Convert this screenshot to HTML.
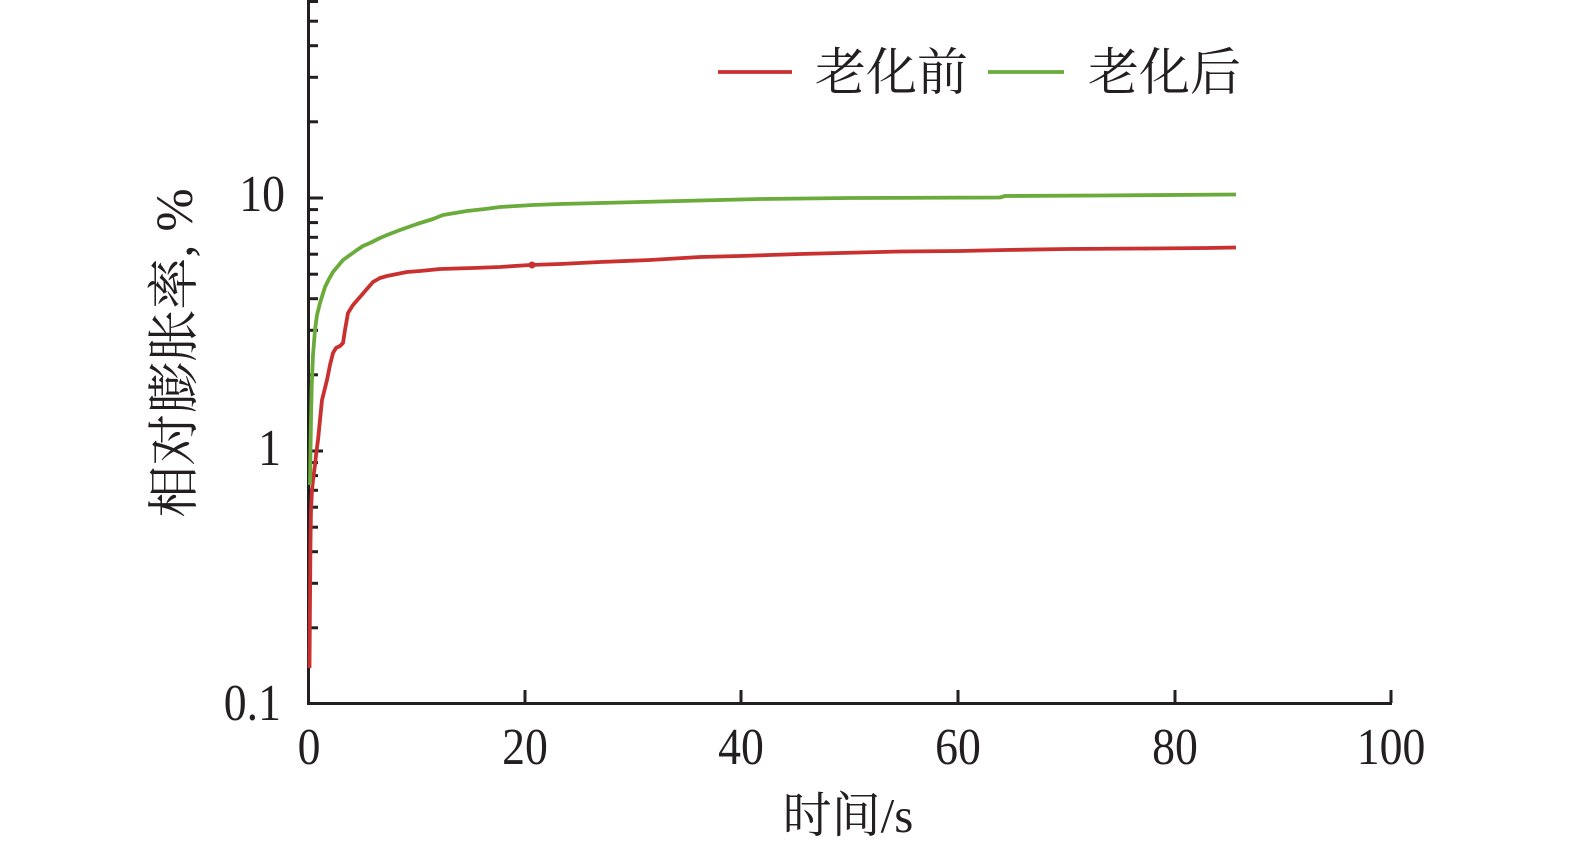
<!DOCTYPE html>
<html><head><meta charset="utf-8"><style>
html,body{margin:0;padding:0;background:#fff;}
svg{display:block;}
text{fill:#231f20;}
.n{font-family:"Liberation Serif","Noto Serif CJK SC",serif;font-size:52px;}
.c{font-family:"Liberation Serif","Noto Serif CJK SC",serif;}
</style></head><body>
<svg width="1575" height="849" viewBox="0 0 1575 849" xmlns="http://www.w3.org/2000/svg">
<!-- axes -->
<g stroke="#231f20" stroke-width="3" fill="none">
<line x1="308.5" y1="0" x2="308.5" y2="705"/>
<line x1="307" y1="703.5" x2="1392" y2="703.5"/>
<line x1="525" y1="703" x2="525" y2="690"/>
<line x1="741" y1="703" x2="741" y2="690"/>
<line x1="958" y1="703" x2="958" y2="690"/>
<line x1="1175" y1="703" x2="1175" y2="690"/>
<line x1="1391" y1="703" x2="1391" y2="690"/>
<line x1="308" y1="198" x2="323" y2="198"/>
<line x1="308" y1="451" x2="323" y2="451"/>
<line x1="308" y1="627.8" x2="318" y2="627.8"/>
<line x1="308" y1="583.3" x2="318" y2="583.3"/>
<line x1="308" y1="551.7" x2="318" y2="551.7"/>
<line x1="308" y1="527.2" x2="318" y2="527.2"/>
<line x1="308" y1="507.2" x2="318" y2="507.2"/>
<line x1="308" y1="490.3" x2="318" y2="490.3"/>
<line x1="308" y1="475.6" x2="318" y2="475.6"/>
<line x1="308" y1="462.6" x2="318" y2="462.6"/>
<line x1="308" y1="374.8" x2="318" y2="374.8"/>
<line x1="308" y1="330.3" x2="318" y2="330.3"/>
<line x1="308" y1="298.7" x2="318" y2="298.7"/>
<line x1="308" y1="274.2" x2="318" y2="274.2"/>
<line x1="308" y1="254.2" x2="318" y2="254.2"/>
<line x1="308" y1="237.3" x2="318" y2="237.3"/>
<line x1="308" y1="222.6" x2="318" y2="222.6"/>
<line x1="308" y1="209.6" x2="318" y2="209.6"/>
<line x1="308" y1="121.8" x2="318" y2="121.8"/>
<line x1="308" y1="77.3" x2="318" y2="77.3"/>
<line x1="308" y1="45.7" x2="318" y2="45.7"/>
<line x1="308" y1="21.2" x2="318" y2="21.2"/>
<line x1="308" y1="1.5" x2="318" y2="1.5"/>
</g>

<!-- x tick labels -->
<g class="n" text-anchor="middle">
<text transform="translate(309,764) scale(0.88,1)">0</text>
<text transform="translate(525,764) scale(0.88,1)">20</text>
<text transform="translate(741,764) scale(0.88,1)">40</text>
<text transform="translate(958,764) scale(0.88,1)">60</text>
<text transform="translate(1175,764) scale(0.88,1)">80</text>
<text transform="translate(1391,764) scale(0.88,1)">100</text>
</g>
<!-- y tick labels -->
<g class="n" text-anchor="end">
<text transform="translate(285,211) scale(0.88,1)">10</text>
<text transform="translate(281,465) scale(0.88,1)">1</text>
<text transform="translate(281,720) scale(0.88,1)">0.1</text>
</g>

<!-- axis titles -->
<text class="c" font-size="49" x="848" y="832" text-anchor="middle">时间/s</text>
<text class="c" font-size="52" transform="translate(192,353) rotate(-90)" text-anchor="middle">相对膨胀率, %</text>

<!-- series -->
<polyline fill="none" stroke="#c8312f" stroke-width="3.8" stroke-linejoin="round" points="309.5,668 310,600 310.5,540 311,510 312,490 313,480 315,465 316,455 318,440 320,420 322,400 325,388 327,380 330,365 333,353 336,348 340,346 343,343 345,330 348,313 353,305 360,297 366,290 373,282 380,278 387,276 397,274 407,272 420,271 440,269 473,268 500,267 530,265 560,264 600,262 650,260 700,257 740,256 800,254 860,252.5 900,251.5 960,251 1005,250 1067,249 1150,248.5 1207,248 1236,247.5"/>
<circle cx="532" cy="265" r="3.5" fill="#c8312f"/>
<polyline fill="none" stroke="#6aab3c" stroke-width="3.8" stroke-linejoin="round" points="310,485 310.5,450 311,420 311.7,387 313,355 315,330 317,315 320,303 325,287 329,279 333,272 338,266 343,260 350,255 357,250 363,246 370,243 380,238 387,235 400,230 417,224 433,219 443,215 455,213 467,211 485,209 500,207 533,205 560,204 600,203 660,201.5 700,200.5 760,199 850,198 1000,197.5 1005,196 1100,195.5 1236,194.5"/>

<!-- legend -->
<line x1="718" y1="72" x2="792" y2="72" stroke="#c8312f" stroke-width="3.8"/>
<text class="c" font-size="51" x="815" y="90">老化前</text>
<line x1="988" y1="72" x2="1064" y2="72" stroke="#6aab3c" stroke-width="3.8"/>
<text class="c" font-size="51" x="1088" y="90">老化后</text>
</svg>
</body></html>
